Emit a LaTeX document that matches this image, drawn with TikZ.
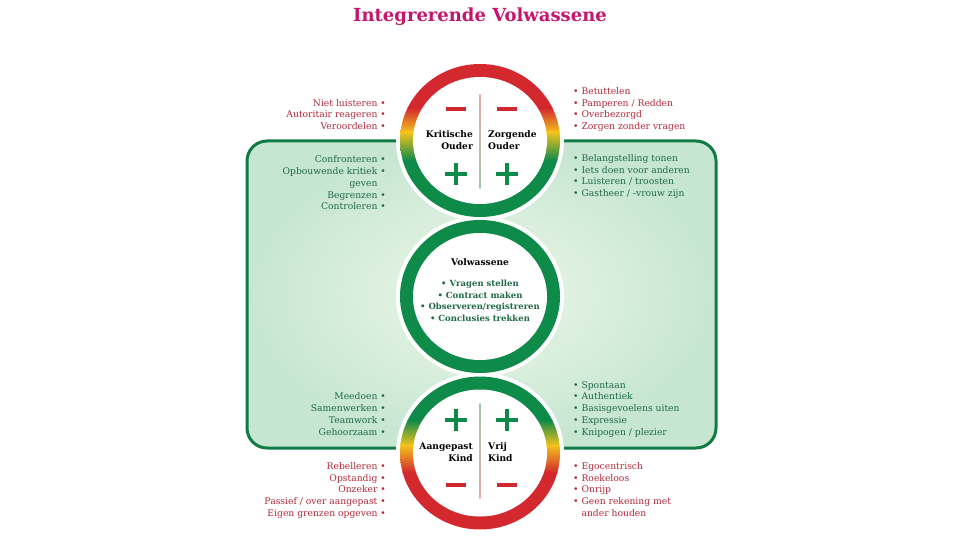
\documentclass[tikz,border=0pt]{standalone}
\usepackage{fontspec}
\setmainfont{DejaVu Serif}
\definecolor{ttl}{HTML}{C4166D}
\definecolor{rred}{HTML}{D3292E}
\definecolor{rorange}{HTML}{EF8B22}
\definecolor{ryellow}{HTML}{F4C31C}
\definecolor{rgreen}{HTML}{0E8A49}
\definecolor{txtred}{HTML}{B22A3B}
\definecolor{txtgreen}{HTML}{1E6A44}
\definecolor{boxline}{HTML}{0F7B45}
\definecolor{boxout}{HTML}{C6E6D2}
\definecolor{boxin}{HTML}{EEF7E8}
\definecolor{divred}{HTML}{E6AAA2}
\definecolor{divgreen}{HTML}{A2C9AE}
\tikzset{
  lbl/.style={inner sep=0pt, text height=6.6pt, text depth=1.9pt, font=\fontsize{9.2}{10}\selectfont},
  lr/.style={lbl, anchor=east, text=txtred},
  lg/.style={lbl, anchor=east, text=txtgreen},
  rr/.style={lbl, anchor=west, text=txtred},
  rg/.style={lbl, anchor=west, text=txtgreen},
  clbl/.style={inner sep=0pt, text height=6.8pt, text depth=1.9pt, font=\fontsize{9.1}{10}\bfseries\selectfont, text=black},
  mid/.style={inner sep=0pt, text height=6.4pt, text depth=1.9pt, font=\fontsize{8.5}{10}\bfseries\selectfont, text=txtgreen},
  minus/.style={rred, line width=3.2pt},
  plus/.style={rgreen, line width=3.5pt},
}
\begin{document}
\begin{tikzpicture}[x=1pt,y=-1pt]
\useasboundingbox (0,0) rectangle (960,540);
\fill[white] (0,0) rectangle (960,540);
% title
\node[inner sep=0pt, font=\fontsize{18}{20}\bfseries\selectfont, text=ttl] (title) at (480,17) {Integrerende Volwassene};
% green box
\shade[inner color=boxin, outer color=boxout, rounded corners=20pt] (247,141) rectangle (716,448);
\draw[boxline, line width=3pt, rounded corners=20pt] (247,141) rectangle (716,448);
% halos
\fill[white] (480,140.5) ellipse [x radius=84pt, y radius=80.5pt];
\fill[white] (480,296.5) ellipse [x radius=84pt, y radius=80.5pt];
\fill[white] (480,453) ellipse [x radius=84pt, y radius=80.5pt];
% top ring
\begin{scope}
\clip (480,140.5) ellipse [x radius=80pt, y radius=76.5pt];
\fill[rred] (390,55) rectangle (570,108.5);
\shade[top color=rred, middle color=rorange, bottom color=ryellow] (390,108) rectangle (570,132.5);
\shade[top color=ryellow, bottom color=rgreen] (390,132) rectangle (570,160.5);
\fill[rgreen] (390,160) rectangle (570,225);
\end{scope}
\fill[white] (480,140.5) ellipse [x radius=67pt, y radius=63.5pt];
% middle ring
\fill[rgreen] (480,296.5) ellipse [x radius=80pt, y radius=76.5pt];
\fill[white] (480,296.5) ellipse [x radius=67pt, y radius=63.5pt];
% bottom ring
\begin{scope}
\clip (480,453) ellipse [x radius=80pt, y radius=76.5pt];
\fill[rgreen] (390,370) rectangle (570,420.5);
\shade[top color=rgreen, bottom color=ryellow] (390,420) rectangle (570,445.5);
\shade[top color=ryellow, middle color=rorange, bottom color=rred] (390,445) rectangle (570,472.5);
\fill[rred] (390,472) rectangle (570,540);
\end{scope}
\fill[white] (480,453) ellipse [x radius=67pt, y radius=63.5pt];
% dividers
\shade[top color=divred, bottom color=divgreen] (479.3,95) rectangle (480.7,188);
\shade[top color=divgreen, bottom color=divred] (479.3,403) rectangle (480.7,498);
% signs top
\draw[minus] (446,109) -- (466,109);
\draw[minus] (497,109) -- (517,109);
\draw[plus] (445,174) -- (467,174) (456,163) -- (456,185);
\draw[plus] (496,174) -- (518,174) (507,163) -- (507,185);
% signs bottom
\draw[plus] (445,420) -- (467,420) (456,409) -- (456,431);
\draw[plus] (496,420) -- (518,420) (507,409) -- (507,431);
\draw[minus] (446,485) -- (466,485);
\draw[minus] (497,485) -- (517,485);
% circle labels
\node[clbl, anchor=east] (kr1) at (473,135) {Kritische};
\node[clbl, anchor=east] (kr2) at (473,147) {Ouder};
\node[clbl, anchor=west] (zo1) at (488,135) {Zorgende};
\node[clbl, anchor=west] (zo2) at (488,147) {Ouder};
\node[clbl, anchor=east] (aa1) at (473,447) {Aangepast};
\node[clbl, anchor=east] (aa2) at (473,459) {Kind};
\node[clbl, anchor=west] (vr1) at (488,447) {Vrij};
\node[clbl, anchor=west] (vr2) at (488,459) {Kind};
% middle
\node[clbl] (vw) at (480,263) {Volwassene};
\node[mid] (m1) at (480,284) {• Vragen stellen};
\node[mid] (m2) at (480,296) {• Contract maken};
\node[mid] (m3) at (480,307.5) {• Observeren/registreren};
\node[mid] (m4) at (480,319) {• Conclusies trekken};
% top-left red
\node[lr] (a1) at (386,104) {Niet luisteren •};
\node[lr] (a2) at (386,115.5) {Autoritair reageren •};
\node[lr] (a3) at (386,127) {Veroordelen •};
% left green top
\node[lg] (b1) at (386,160) {Confronteren •};
\node[lg] (b2) at (386,172) {Opbouwende kritiek •};
\node[lg] (b3) at (386,184) {geven\phantom{ •}};
\node[lg] (b4) at (386,196) {Begrenzen •};
\node[lg] (b5) at (386,207.5) {Controleren •};
% top-right red
\node[rr] (c1) at (573,92) {• Betuttelen};
\node[rr] (c2) at (573,104) {• Pamperen / Redden};
\node[rr] (c3) at (573,115.5) {• Overbezorgd};
\node[rr] (c4) at (573,127) {• Zorgen zonder vragen};
% right green top
\node[rg] (d1) at (573,159.5) {• Belangstelling tonen};
\node[rg] (d2) at (573,171) {• Iets doen voor anderen};
\node[rg] (d3) at (573,182.5) {• Luisteren / troosten};
\node[rg] (d4) at (573,194) {• Gastheer / -vrouw zijn};
% bottom-left green
\node[lg] (e1) at (386,397.5) {Meedoen •};
\node[lg] (e2) at (386,409.5) {Samenwerken •};
\node[lg] (e3) at (386,421.5) {Teamwork •};
\node[lg] (e4) at (386,433) {Gehoorzaam •};
% bottom-left red
\node[lr] (f1) at (386,467) {Rebelleren •};
\node[lr] (f2) at (386,479) {Opstandig •};
\node[lr] (f3) at (386,490.5) {Onzeker •};
\node[lr] (f4) at (386,502.5) {Passief / over aangepast •};
\node[lr] (f5) at (386,514.5) {Eigen grenzen opgeven •};
% bottom-right green
\node[rg] (g1) at (573,386) {• Spontaan};
\node[rg] (g2) at (573,397.5) {• Authentiek};
\node[rg] (g3) at (573,409.5) {• Basisgevoelens uiten};
\node[rg] (g4) at (573,421) {• Expressie};
\node[rg] (g5) at (573,433) {• Knipogen / plezier};
% bottom-right red
\node[rr] (h1) at (573,467) {• Egocentrisch};
\node[rr] (h2) at (573,479) {• Roekeloos};
\node[rr] (h3) at (573,490.5) {• Onrijp};
\node[rr] (h4) at (573,502.5) {• Geen rekening met};
\node[rr] (h5) at (573,514.5) {\phantom{• }ander houden};
\end{tikzpicture}
\end{document}
